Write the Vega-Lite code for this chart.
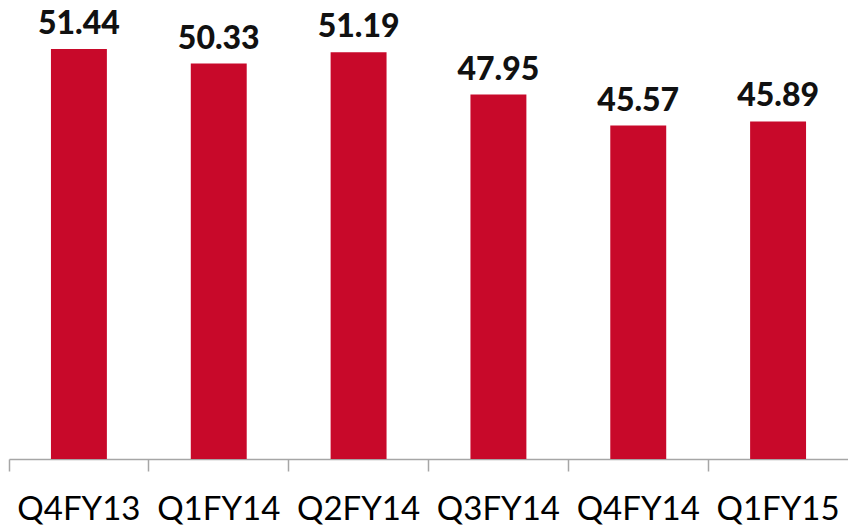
{
  "$schema": "https://vega.github.io/schema/vega-lite/v6.json",
  "width": 839,
  "height": 459,
  "autosize": {"type": "none"},
  "padding": {"left": 9, "top": 0, "right": 0, "bottom": 67},
  "background": "white",
  "config": {"view": {"stroke": null}},
  "data": {
    "values": [
      {"quarter": "Q4FY13", "value": 51.44},
      {"quarter": "Q1FY14", "value": 50.33},
      {"quarter": "Q2FY14", "value": 51.19},
      {"quarter": "Q3FY14", "value": 47.95},
      {"quarter": "Q4FY14", "value": 45.57},
      {"quarter": "Q1FY15", "value": 45.89}
    ]
  },
  "encoding": {
    "x": {
      "field": "quarter",
      "type": "nominal",
      "sort": null,
      "scale": {"paddingInner": 0, "paddingOuter": 0},
      "axis": {
        "title": null,
        "bandPosition": 0,
        "labelAngle": 0,
        "labelAlign": "center",
        "labelFont": "Lato",
        "labelFontSize": 33,
        "labelColor": "#000000",
        "labelPadding": 22,
        "labelBound": false,
        "labelOverlap": false,
        "labelFlush": false,
        "domainColor": "#a6a6a6",
        "domainWidth": 1.5,
        "tickColor": "#a6a6a6",
        "tickWidth": 1.5,
        "tickSize": 12,
        "grid": false
      }
    },
    "y": {
      "field": "value",
      "type": "quantitative",
      "scale": {"domain": [20, 55.2], "clamp": true, "nice": false, "zero": false},
      "axis": null
    }
  },
  "layer": [
    {"mark": {"type": "bar", "color": "#c8092a", "width": {"band": 0.4}, "clip": true}},
    {
      "mark": {"type": "text", "font": "Lato", "fontWeight": 900, "fontSize": 32, "baseline": "alphabetic", "dy": -15, "color": "#111111"},
      "encoding": {"text": {"field": "value", "type": "quantitative", "format": ".2f"}}
    }
  ]
}
